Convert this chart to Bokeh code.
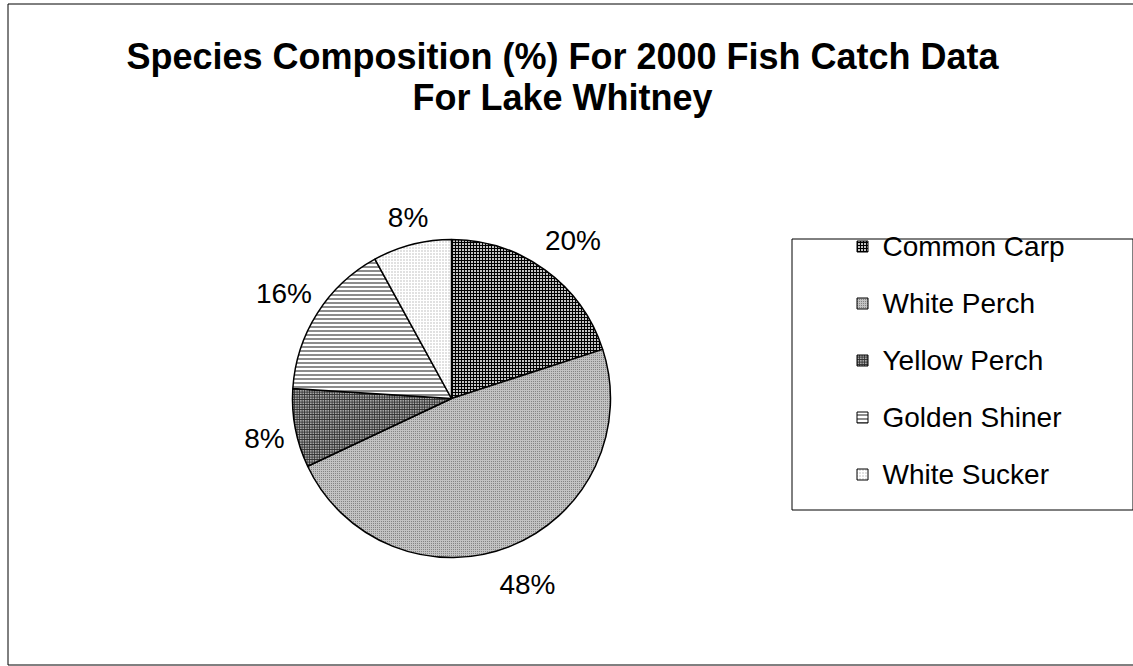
import numpy as np
from bokeh.plotting import figure
from bokeh.models import ColumnDataSource
from bokeh.core.properties import value
from bokeh.embed import file_html
from bokeh.resources import INLINE

# ---- data -------------------------------------------------------------
species = ["Common Carp", "White Perch", "Yellow Perch", "Golden Shiner", "White Sucker"]
percent = [20, 48, 8, 16, 8]
title_lines = ["Species Composition (%) For 2000 Fish Catch Data", "For Lake Whitney"]

# ---- page geometry (y measured upward from the bottom of the page) -----
W, H = 1133, 666
FONT = "Liberation Sans"
CX, CY, R = 451, H - 398, 159

# monochrome fill patterns, one per species
fill_colors = ["#c4c4c4", "#c2c2c2", "#a8a8a8", "#ffffff", "#ffffff"]
hatch_patterns = ["+", ".", "+", "-", "."]
hatch_colors = ["#000000", "#6e6e6e", "#2e2e2e", "#8c8c8c", "#b4b4b4"]
hatch_scales = [3, 2, 2.5, 4, 3]
hatch_weights = [1, 1, 1, 2, 1]

frac = np.array(percent, dtype=float) / sum(percent)
cum_end = np.cumsum(frac)
cum_start = cum_end - frac

# slices run clockwise from twelve o'clock
start_angle = np.pi / 2 - 2 * np.pi * cum_end
end_angle = np.pi / 2 - 2 * np.pi * cum_start

pie = ColumnDataSource(dict(
    species=species, start=start_angle, end=end_angle,
    fill=fill_colors, pattern=hatch_patterns, hcolor=hatch_colors,
    hscale=hatch_scales, hweight=hatch_weights,
))

p = figure(width=W, height=H, x_range=(0, W), y_range=(0, H),
           toolbar_location=None, output_backend="svg", min_border=0)
p.axis.visible = False
p.grid.visible = False
p.outline_line_color = None
p.background_fill_color = "white"
p.border_fill_color = "white"

# chart area border
p.quad(left=[7.5], right=[W + 10], top=[H - 3.5], bottom=[H - 664.5],
       fill_color=None, line_color="#000000", line_width=1)

# title
p.text(x=[562, 562], y=[H - 56, H - 97], text=title_lines,
       text_font=value(FONT), text_font_style="bold", text_font_size="36px",
       text_align="center", text_baseline="middle", text_color="#000000")

# pie
p.wedge(x=CX, y=CY, radius=R, start_angle="start", end_angle="end",
        source=pie, fill_color="fill", hatch_pattern="pattern",
        hatch_color="hcolor", hatch_scale="hscale", hatch_weight="hweight",
        line_color="#000000", line_width=1.5)

# percentage labels placed just outside each slice
fs = 28
mid = 2 * np.pi * (cum_start + frac / 2)
ux, uy = np.sin(mid), np.cos(mid)
labels = [f"{v}%" for v in percent]
tw = np.array([fs * (0.556 * (len(t) - 1) + 0.889) for t in labels])
th = 28.0
ext = tw / 2 * np.abs(ux) + th / 2 * np.abs(uy)
dist = R + 13 + ext
p.text(x=CX + dist * ux + 4, y=CY + dist * uy - 4, text=labels,
       text_font=value(FONT), text_font_size=f"{fs}px",
       text_align="center", text_baseline="middle", text_color="#000000")

# legend box
p.quad(left=[791.5], right=[1132.5], top=[H - 238.5], bottom=[H - 509.5],
       fill_color="white", line_color="#000000", line_width=1)

row_y = H - (246 + 57 * np.arange(len(species)))
leg = ColumnDataSource(dict(
    y=row_y, species=species, fill=fill_colors, pattern=hatch_patterns,
    hcolor=hatch_colors, hscale=hatch_scales, hweight=hatch_weights,
))
p.rect(x=862, y="y", width=11, height=11, source=leg, fill_color="fill",
       hatch_pattern="pattern", hatch_color="hcolor", hatch_scale="hscale",
       hatch_weight="hweight", line_color="#000000", line_width=1)
p.text(x=882, y="y", text="species", source=leg,
       text_font=value(FONT), text_font_size=f"{fs}px",
       text_align="left", text_baseline="middle", text_color="#000000")

open("out.html", "w").write(file_html(p, INLINE))
